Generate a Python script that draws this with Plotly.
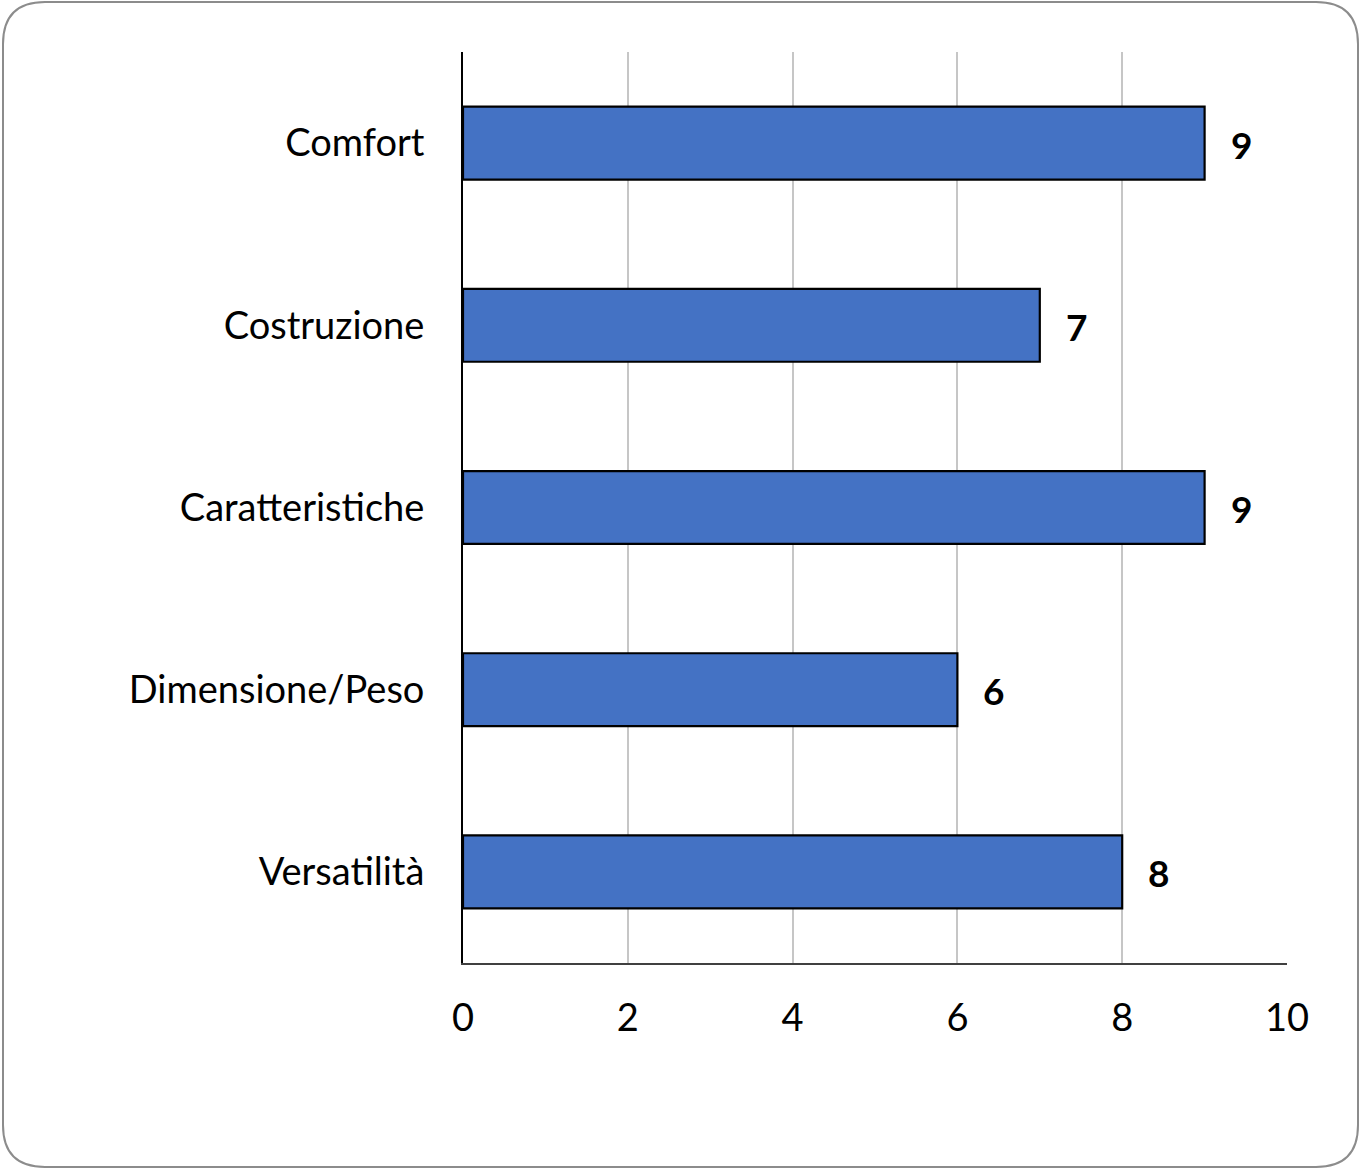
import plotly.graph_objects as go

categories = ["Comfort", "Costruzione", "Caratteristiche", "Dimensione/Peso", "Versatilità"]
values = [9, 7, 9, 6, 8]
x_ticks = [0, 2, 4, 6, 8, 10]

W, H = 1365, 1173
ML, MR, MT, MB = 463, 78, 52, 210
PW, PH = W - ML - MR, H - MT - MB

FONT = "Lato, Open Sans, sans-serif"

fig = go.Figure()
fig.add_trace(go.Bar(
    y=categories, x=values, orientation="h", width=0.4,
    marker=dict(color="#4472C4", line=dict(color="#000000", width=2.2)),
    hoverinfo="skip",
))

for c, v in zip(categories, values):
    fig.add_annotation(x=v, y=c, text="<b>%d</b>" % v, showarrow=False,
                       xanchor="left", xshift=24, yshift=-1,
                       font=dict(family=FONT, size=37, color="#000000"))

def px(x):
    return (x - ML) / PW

def py(y):
    return (MT + PH - y) / PH

x0, x1, y0, y1, r = 3, 1358, 2, 1167, 42
path = (
    f"M {px(x0 + r)} {py(y0)} L {px(x1 - r)} {py(y0)} "
    f"Q {px(x1)} {py(y0)} {px(x1)} {py(y0 + r)} "
    f"L {px(x1)} {py(y1 - r)} Q {px(x1)} {py(y1)} {px(x1 - r)} {py(y1)} "
    f"L {px(x0 + r)} {py(y1)} Q {px(x0)} {py(y1)} {px(x0)} {py(y1 - r)} "
    f"L {px(x0)} {py(y0 + r)} Q {px(x0)} {py(y0)} {px(x0 + r)} {py(y0)} Z"
)
fig.add_shape(type="path", path=path, xref="paper", yref="paper",
              line=dict(color="#8c8c8c", width=2), layer="below")

fig.update_layout(
    width=W, height=H,
    margin=dict(l=ML, r=MR, t=MT, b=MB),
    paper_bgcolor="white", plot_bgcolor="white",
    showlegend=False,
    font=dict(family=FONT, size=38, color="#000000"),
    bargap=0.6,
)
fig.update_xaxes(
    range=[0, 10], tickvals=x_ticks, ticktext=[str(t) for t in x_ticks],
    showgrid=True, gridcolor="#c6c6c6", gridwidth=2,
    showline=True, linecolor="#404040", linewidth=2,
    zeroline=False, ticks="", ticklabelstandoff=20,
    tickfont=dict(family=FONT, size=38, color="#000000"),
)
fig.update_yaxes(
    autorange="reversed", showgrid=False,
    showline=True, linecolor="#000000", linewidth=2,
    ticks="", ticklabelstandoff=29,
    tickfont=dict(family=FONT, size=38, color="#000000"),
)

fig.write_html("out.html", config={"displayModeBar": False},
               post_script="document.body.style.margin='0';")
